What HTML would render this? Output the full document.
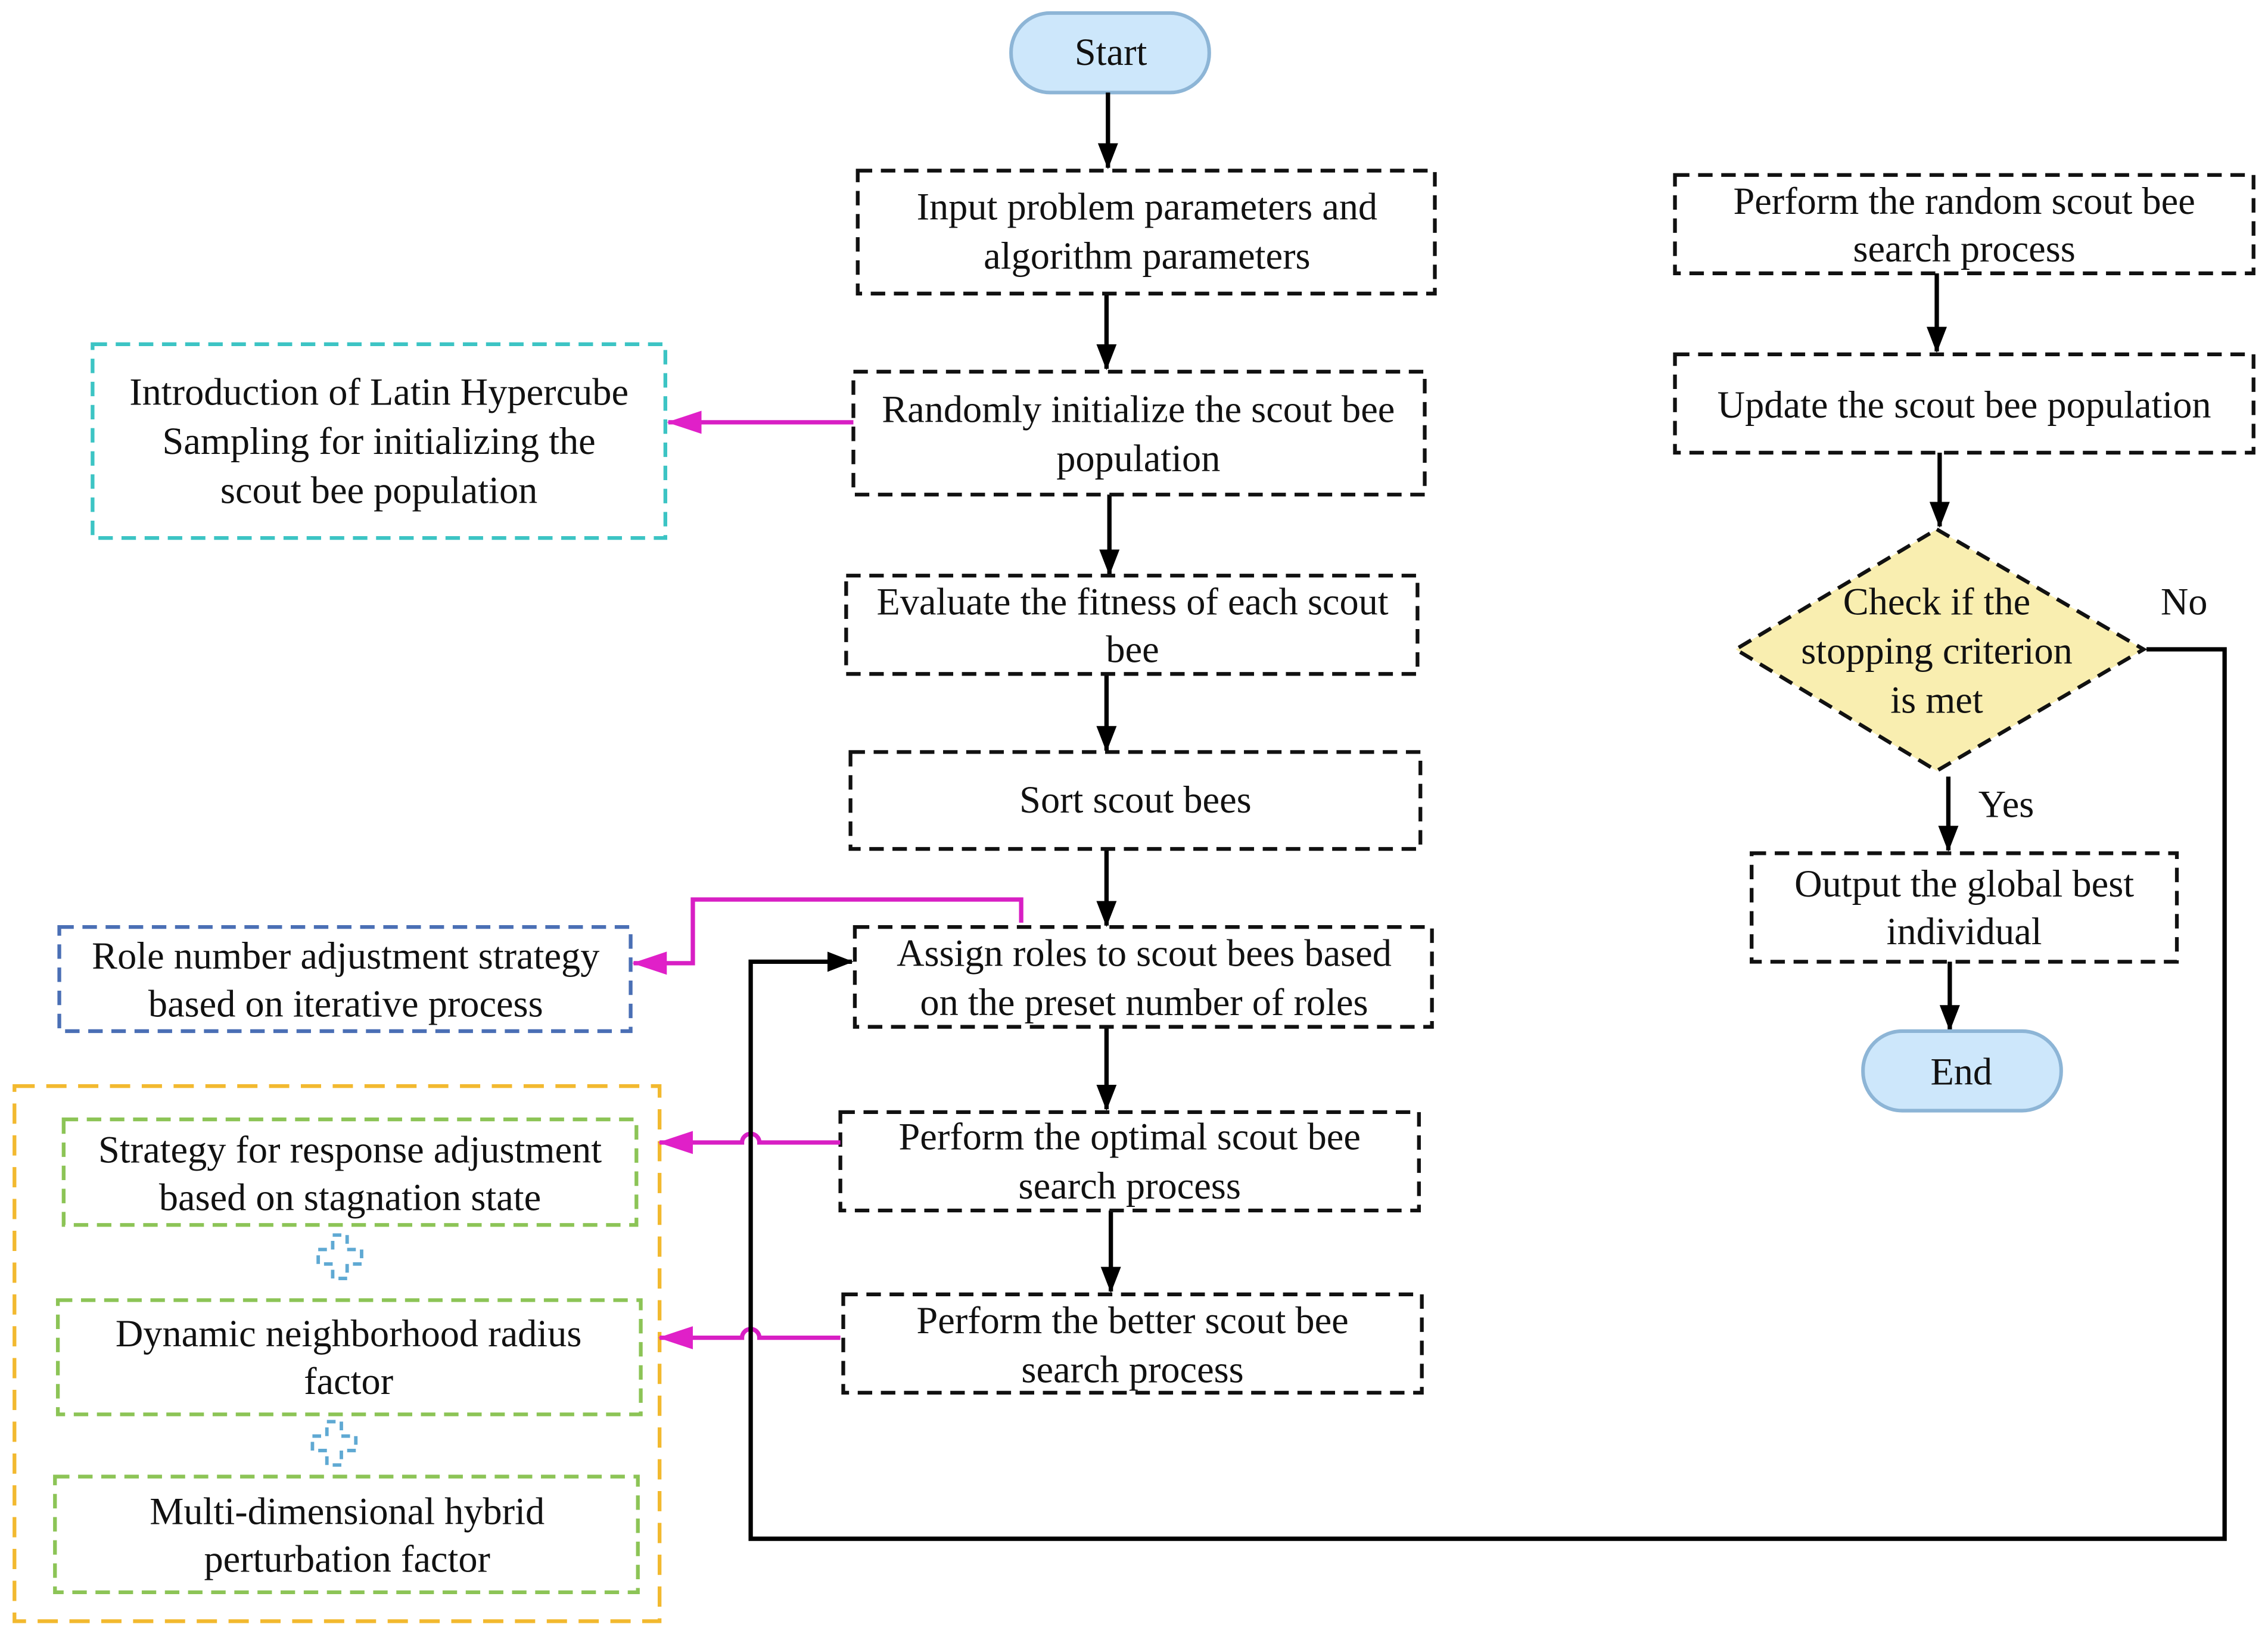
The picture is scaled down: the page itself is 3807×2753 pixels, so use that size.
<!DOCTYPE html>
<html><head><meta charset="utf-8"><style>html,body{margin:0;padding:0;background:#fff}svg{display:block}
svg text{font-family:"Liberation Serif","Times New Roman",Times,serif;}</style></head>
<body>
<svg width="3807" height="2753" viewBox="0 0 1568 1134" preserveAspectRatio="none" xmlns="http://www.w3.org/2000/svg" font-family="Liberation Serif, Times New Roman, serif">
<defs>
<marker id="bk" markerWidth="18" markerHeight="20" refX="17" refY="10" orient="auto" markerUnits="userSpaceOnUse"><path d="M0,3 L18,10 L0,17 z" fill="#000"/></marker>
<marker id="mg" markerWidth="24" markerHeight="20" refX="23" refY="10" orient="auto" markerUnits="userSpaceOnUse"><path d="M0,2 L24,10 L0,18 z" fill="#e020c8"/></marker>
</defs>
<style>
text{font-family:"Liberation Serif","Times New Roman",serif;font-size:26.5px;fill:#111;text-anchor:middle;dominant-baseline:central}
.d{fill:none;stroke:#111;stroke-width:2.6;stroke-dasharray:10 6}
.a{stroke:#000;stroke-width:3;fill:none}
.m{stroke:#d81fc4;stroke-width:3;fill:none}
</style>
<rect x="699" y="9" width="137" height="55" rx="27" fill="#cde7fb" stroke="#8db5d6" stroke-width="2.5"/>
<text x="768" y="36">Start</text>
<line class="a" x1="766" y1="64" x2="766" y2="116" marker-end="url(#bk)"/>
<line class="a" x1="765" y1="203" x2="765" y2="255" marker-end="url(#bk)"/>
<line class="a" x1="767" y1="342" x2="767" y2="397" marker-end="url(#bk)"/>
<line class="a" x1="765" y1="466" x2="765" y2="519" marker-end="url(#bk)"/>
<line class="a" x1="765" y1="587" x2="765" y2="640" marker-end="url(#bk)"/>
<line class="a" x1="765" y1="710" x2="765" y2="767" marker-end="url(#bk)"/>
<line class="a" x1="768" y1="837" x2="768" y2="893" marker-end="url(#bk)"/>
<rect class="d" x="593" y="118" width="399" height="85"/>
<text x="793" y="143">Input problem parameters and</text>
<text x="793" y="177">algorithm parameters</text>
<rect class="d" x="590" y="257" width="395" height="85"/>
<text x="787" y="283">Randomly initialize the scout bee</text>
<text x="787" y="317">population</text>
<rect class="d" x="585" y="398" width="395" height="68"/>
<text x="783" y="416">Evaluate the fitness of each scout</text>
<text x="783" y="449">bee</text>
<rect class="d" x="588" y="520" width="394" height="67"/>
<text x="785" y="553">Sort scout bees</text>
<rect class="d" x="591" y="641" width="399" height="69"/>
<text x="791" y="659">Assign roles to scout bees based</text>
<text x="791" y="693">on the preset number of roles</text>
<rect class="d" x="581" y="769" width="400" height="68"/>
<text x="781" y="786">Perform the optimal scout bee</text>
<text x="781" y="820">search process</text>
<rect class="d" x="583" y="895" width="400" height="68"/>
<text x="783" y="913">Perform the better scout bee</text>
<text x="783" y="947">search process</text>
<rect x="64" y="238" width="396" height="134" fill="none" stroke="#3cc4c4" stroke-width="2.6" stroke-dasharray="10 6"/>
<text x="262" y="271">Introduction of Latin Hypercube</text>
<text x="262" y="305">Sampling for initializing the</text>
<text x="262" y="339">scout bee population</text>
<rect x="41" y="641" width="395" height="72" fill="none" stroke="#4a6fb5" stroke-width="2.6" stroke-dasharray="10 6"/>
<text x="239" y="661">Role number adjustment strategy</text>
<text x="239" y="694">based on iterative process</text>
<rect x="10" y="751" width="446" height="370" fill="none" stroke="#f2b92f" stroke-width="2.6" stroke-dasharray="14 8"/>
<rect x="44" y="774" width="396" height="73" fill="none" stroke="#8cc456" stroke-width="2.6" stroke-dasharray="10 6"/>
<text x="242" y="795">Strategy for response adjustment</text>
<text x="242" y="828">based on stagnation state</text>
<rect x="40" y="899" width="403" height="79" fill="none" stroke="#8cc456" stroke-width="2.6" stroke-dasharray="10 6"/>
<text x="241" y="922">Dynamic neighborhood radius</text>
<text x="241" y="955">factor</text>
<rect x="38" y="1021" width="403" height="80" fill="none" stroke="#8cc456" stroke-width="2.6" stroke-dasharray="10 6"/>
<text x="240" y="1045">Multi-dimensional hybrid</text>
<text x="240" y="1078">perturbation factor</text>
<path d="M230,854 h10 v10 h10 v10 h-10 v10 h-10 v-10 h-10 v-10 h10 z" fill="none" stroke="#5fa9d3" stroke-width="2.4" stroke-dasharray="6 4"/>
<path d="M226,983 h10 v10 h10 v10 h-10 v10 h-10 v-10 h-10 v-10 h10 z" fill="none" stroke="#5fa9d3" stroke-width="2.4" stroke-dasharray="6 4"/>
<line class="m" x1="590" y1="292" x2="462" y2="292" marker-end="url(#mg)"/>
<polyline class="m" points="706,638 706,622 479,622 479,666 438,666" marker-end="url(#mg)"/>
<path class="m" d="M581,790 H525 a6,6 0 0 0 -12,0 H456" marker-end="url(#mg)"/>
<path class="m" d="M581,925 H525 a6,6 0 0 0 -12,0 H456" marker-end="url(#mg)"/>
<polyline class="a" points="1484,449 1538,449 1538,1064 519,1064 519,665 589,665" marker-end="url(#bk)"/>
<rect class="d" x="1158" y="121" width="400" height="68"/>
<text x="1358" y="139">Perform the random scout bee</text>
<text x="1358" y="172">search process</text>
<line class="a" x1="1339" y1="189" x2="1339" y2="243" marker-end="url(#bk)"/>
<rect class="d" x="1158" y="245" width="400" height="68"/>
<text x="1358" y="280">Update the scout bee population</text>
<line class="a" x1="1341" y1="313" x2="1341" y2="364" marker-end="url(#bk)"/>
<polygon points="1339,366 1482,449 1339,533 1200,449" fill="#f9eeb0" stroke="#111" stroke-width="2.6" stroke-dasharray="10 6"/>
<text x="1339" y="416">Check if the</text>
<text x="1339" y="450">stopping criterion</text>
<text x="1339" y="484">is met</text>
<text x="1510" y="416">No</text>
<line class="a" x1="1347" y1="537" x2="1347" y2="588" marker-end="url(#bk)"/>
<text x="1387" y="556">Yes</text>
<rect class="d" x="1211" y="590" width="294" height="75"/>
<text x="1358" y="611">Output the global best</text>
<text x="1358" y="644">individual</text>
<line class="a" x1="1348" y1="665" x2="1348" y2="712" marker-end="url(#bk)"/>
<rect x="1288" y="713" width="137" height="55" rx="27" fill="#cde7fb" stroke="#8db5d6" stroke-width="2.5"/>
<text x="1356" y="741">End</text>
</svg>
</body></html>
